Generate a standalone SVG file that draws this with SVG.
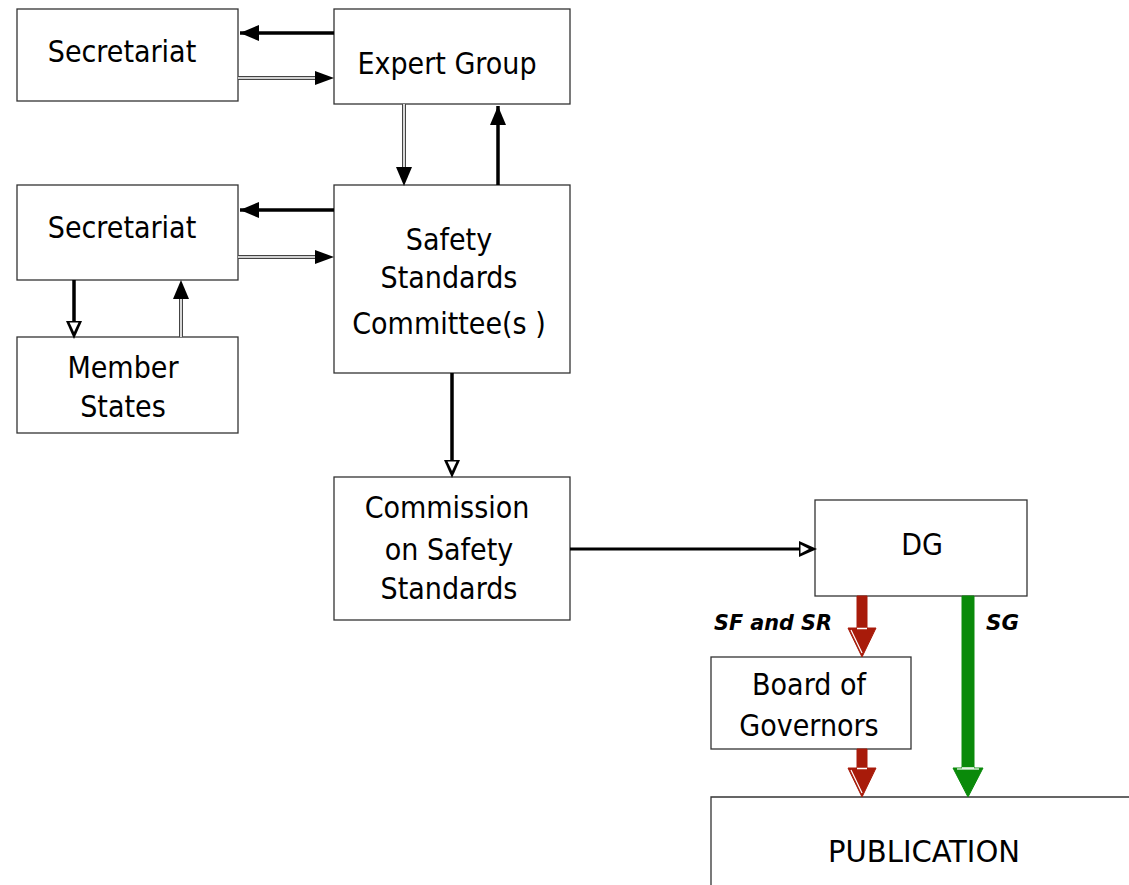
<svg xmlns="http://www.w3.org/2000/svg" width="1129" height="885" viewBox="0 0 1129 885">
<defs>
<style>
.box{fill:#fff;stroke:#333;stroke-width:1.3}
.t{font-family:"DejaVu Sans Condensed","DejaVu Sans",sans-serif;font-size:30px;fill:#000;text-anchor:middle}
.lbl{font-family:"DejaVu Sans","Liberation Sans",sans-serif;font-size:21px;font-weight:bold;font-style:italic;fill:#000}
.thick{stroke:#000;stroke-width:3.5;fill:none}
.dblo{stroke:#444;stroke-width:4;fill:none}
.dbli{stroke:#fff;stroke-width:1.6;fill:none}
</style>
<marker id="ah" markerUnits="userSpaceOnUse" markerWidth="20" markerHeight="20" viewBox="0 0 20 20" refX="20" refY="10" orient="auto">
<path d="M1,2 L20,10 L1,18 Z" fill="#000"/>
</marker>
</defs>
<g id="secretariat1"><rect class="box" x="17" y="9" width="221" height="92"/><text class="t" x="122" y="62">Secretariat</text></g>
<g id="expert-group"><rect class="box" x="334" y="9" width="236" height="95"/><text class="t" x="447" y="74">Expert Group</text></g>
<g id="secretariat2"><rect class="box" x="17" y="185" width="221" height="95"/><text class="t" x="122" y="238">Secretariat</text></g>
<g id="ssc"><rect class="box" x="334" y="185" width="236" height="188"/><text class="t" x="449" y="250">Safety</text><text class="t" x="449" y="288">Standards</text><text class="t" x="449" y="334">Committee(s  )</text></g>
<g id="member-states"><rect class="box" x="17" y="337" width="221" height="96"/><text class="t" x="123" y="378">Member</text><text class="t" x="123" y="417">States</text></g>
<g id="css"><rect class="box" x="334" y="477" width="236" height="143"/><text class="t" x="447" y="518">Commission</text><text class="t" x="449" y="560">on Safety</text><text class="t" x="449" y="599">Standards</text></g>
<g id="dg"><rect class="box" x="815" y="500" width="212" height="96"/><text class="t" x="922" y="555">DG</text></g>
<g id="board"><rect class="box" x="711" y="657" width="200" height="92"/><text class="t" x="809" y="695">Board of</text><text class="t" x="809" y="736">Governors</text></g>
<g id="publication"><path class="box" d="M711,890 L711,797 L1135,797"/><text class="t" x="924" y="862" textLength="192" lengthAdjust="spacingAndGlyphs">PUBLICATION</text></g>
<g id="connectors">
<line class="thick" x1="334" y1="33" x2="240" y2="33" marker-end="url(#ah)"/>
<line class="dblo" x1="238" y1="78" x2="318" y2="78"/><line class="dbli" x1="238" y1="78" x2="318" y2="78"/>
<path d="M315,71 L334,78 L315,85 Z" fill="#000"/>
<line class="dblo" x1="404" y1="104" x2="404" y2="170"/><line class="dbli" x1="404" y1="104" x2="404" y2="170"/>
<path d="M396,167 L404,186 L412,167 Z" fill="#000"/>
<line class="thick" x1="498" y1="185" x2="498" y2="106" marker-end="url(#ah)"/>
<line class="thick" x1="334" y1="210" x2="240" y2="210" marker-end="url(#ah)"/>
<line class="dblo" x1="238" y1="257" x2="318" y2="257"/><line class="dbli" x1="238" y1="257" x2="318" y2="257"/>
<path d="M315,250 L334,257 L315,264 Z" fill="#000"/>
<line class="thick" x1="74" y1="280" x2="74" y2="322"/>
<path d="M66,321 L74,339 L82,321 Z" fill="#000"/><path d="M69.5,322.5 L74,332 L78.5,322.5 Z" fill="#fff"/>
<line class="dblo" x1="181" y1="337" x2="181" y2="296"/><line class="dbli" x1="181" y1="337" x2="181" y2="296"/>
<path d="M173,299 L181,280 L189,299 Z" fill="#000"/>
<line class="thick" x1="452" y1="373" x2="452" y2="462"/>
<path d="M444,460 L452,478 L460,460 Z" fill="#000"/><path d="M447.5,461.5 L452,471 L456.5,461.5 Z" fill="#fff"/>
<line stroke="#000" stroke-width="3" x1="570" y1="549" x2="800" y2="549"/>
<path d="M799,541 L817,549 L799,557 Z" fill="#000"/><path d="M800.5,544.5 L809,549 L800.5,553.5 Z" fill="#fff"/>
<path d="M857,596 L867,596 L867,628 L876,628 L862,657 L848,628 L857,628 Z" fill="#a81b0a" stroke="#a81b0a" stroke-width="1"/>
<path d="M851,630 L862,653" stroke="#fff" stroke-width="1.2" fill="none"/><line x1="857" y1="628.5" x2="867" y2="628.5" stroke="#fff" stroke-width="1.5"/>
<path d="M857,749 L867,749 L867,768 L876,768 L862,797 L848,768 L857,768 Z" fill="#a81b0a" stroke="#a81b0a" stroke-width="1"/>
<path d="M851,770 L862,793" stroke="#fff" stroke-width="1.2" fill="none"/><line x1="857" y1="768.5" x2="867" y2="768.5" stroke="#fff" stroke-width="1.5"/>
<path d="M962,596 L974,596 L974,768 L983,768 L968,797 L953,768 L962,768 Z" fill="#0a8a0a" stroke="#0a8a0a" stroke-width="1"/>
<line x1="957" y1="769" x2="979" y2="769" stroke="#fff" stroke-width="1.2"/><line x1="962" y1="768" x2="974" y2="768" stroke="#fff" stroke-width="1.5"/>
</g>
<text class="lbl" x="714" y="630" textLength="118" lengthAdjust="spacingAndGlyphs">SF and SR</text>
<text class="lbl" x="986" y="630" textLength="33" lengthAdjust="spacingAndGlyphs">SG</text>
</svg>
